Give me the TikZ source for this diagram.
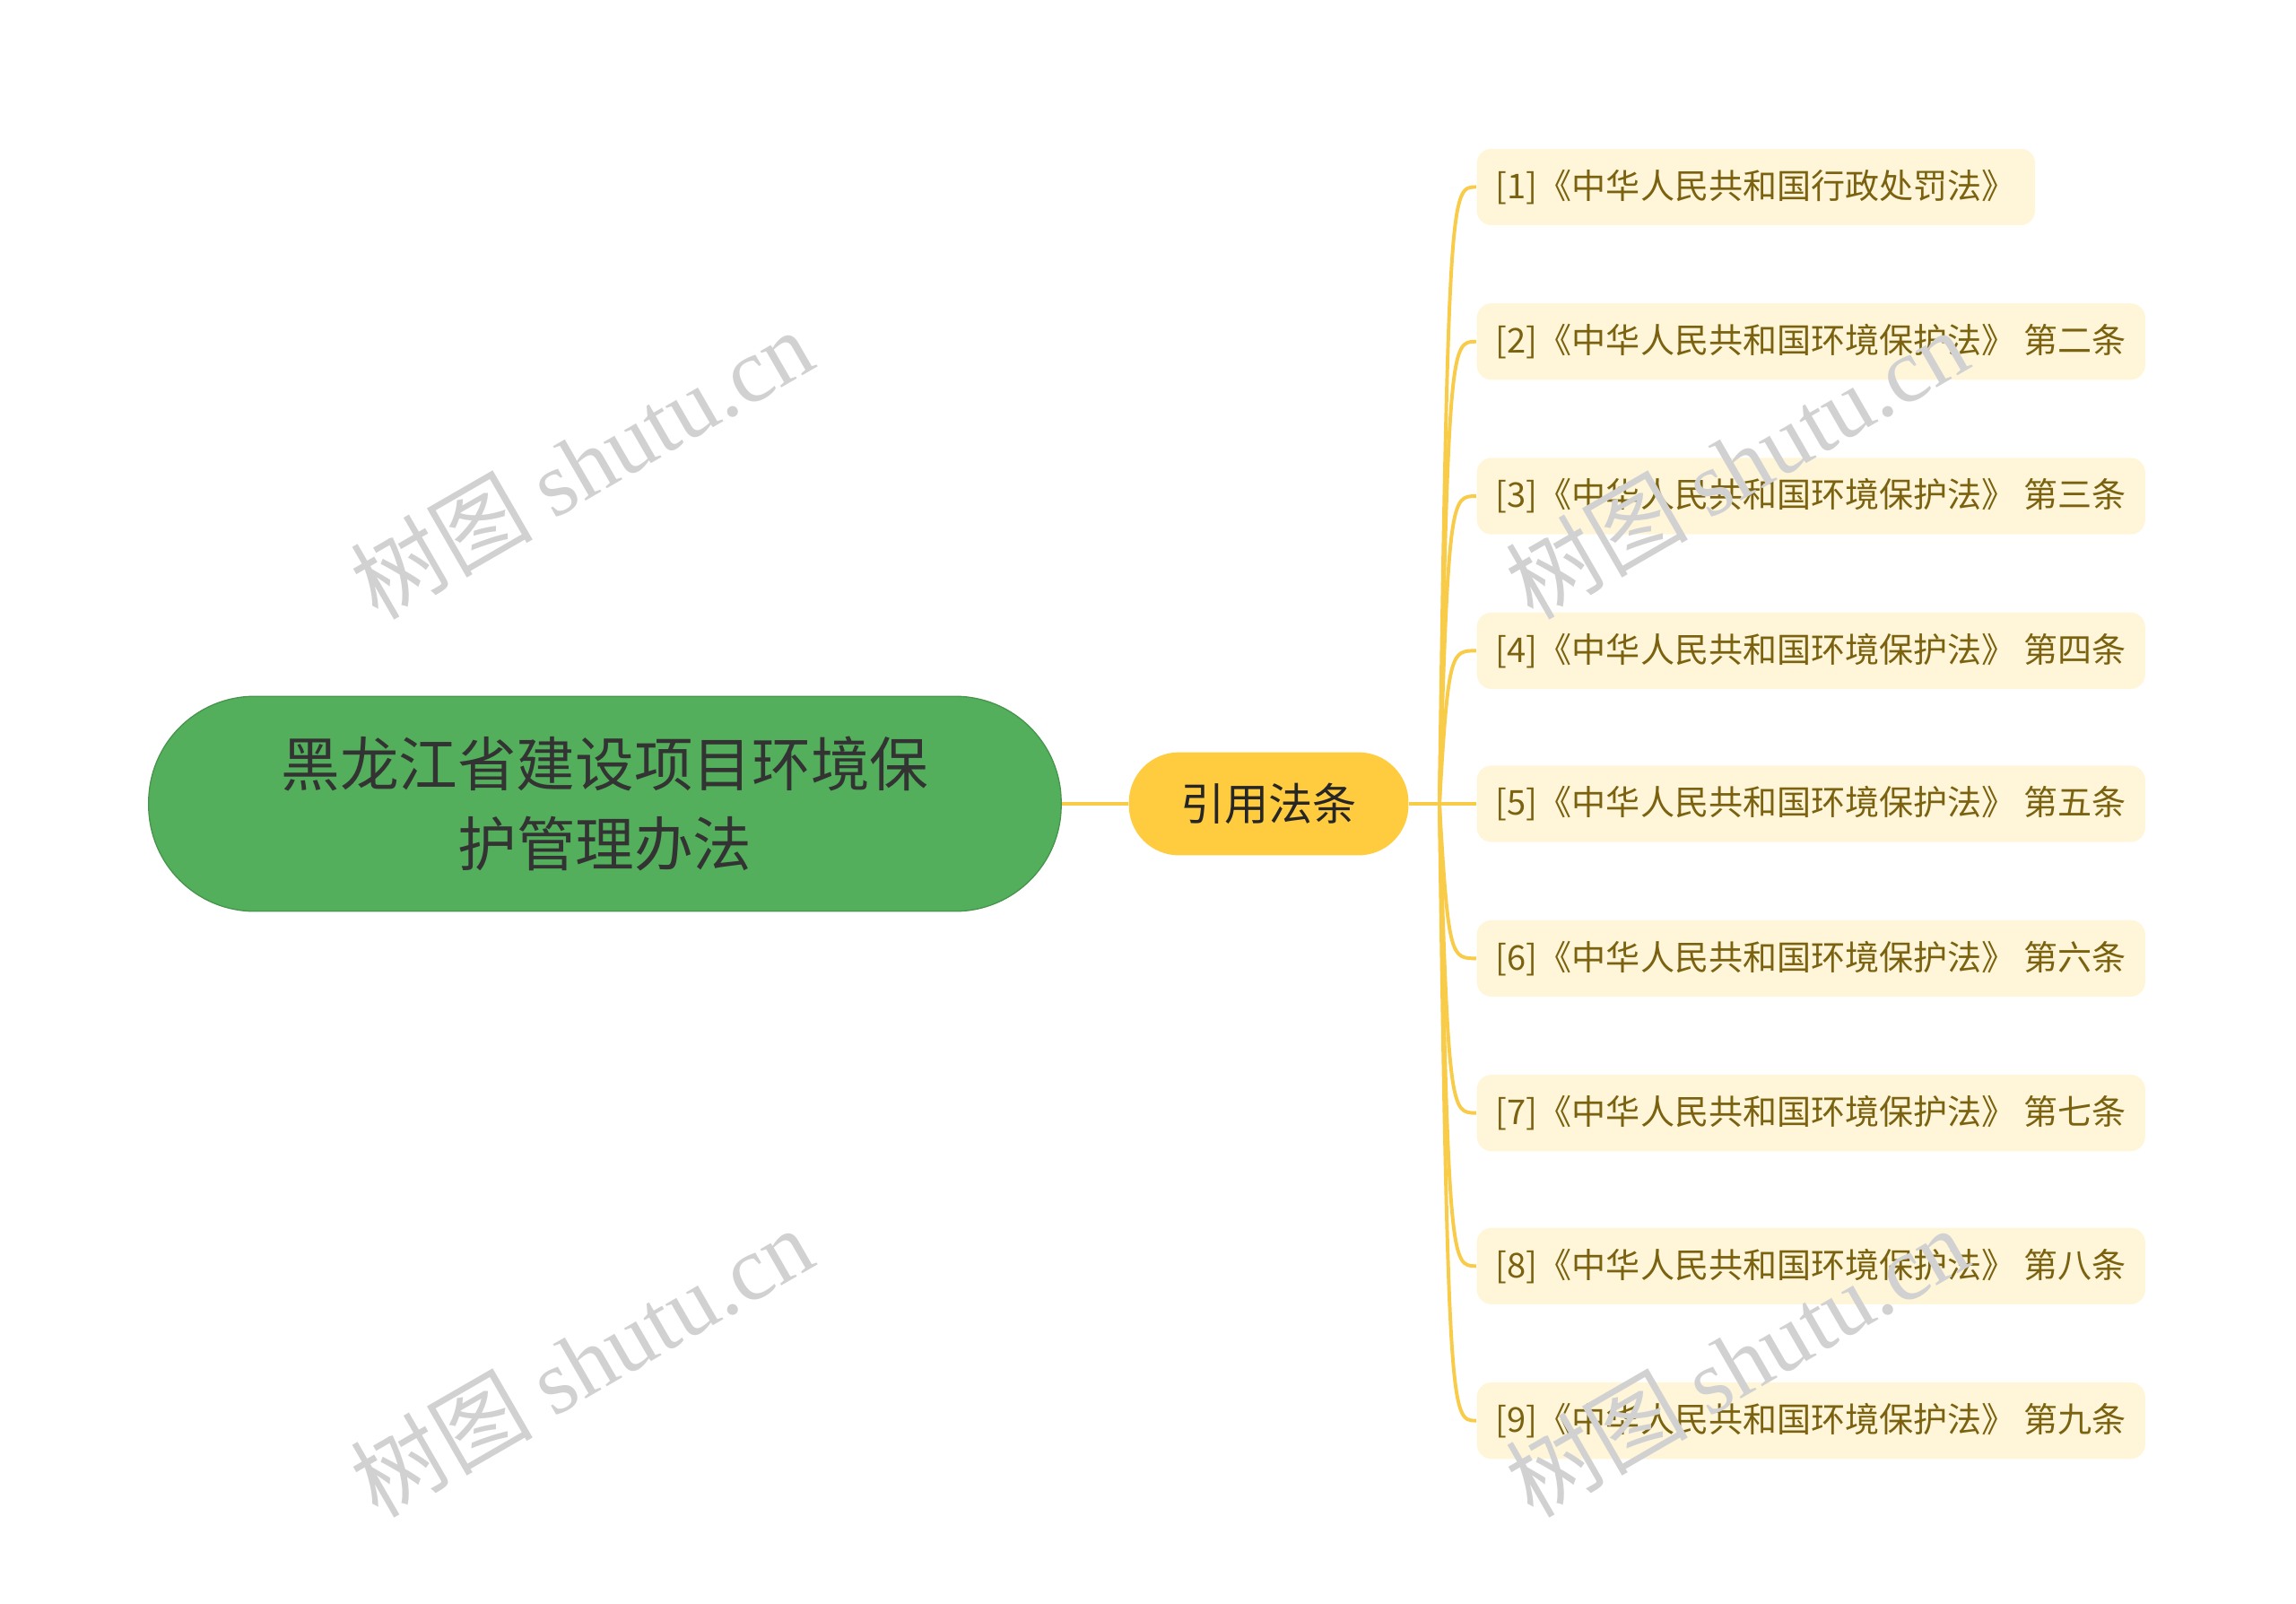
\documentclass[tikz,border=0pt]{standalone}
\usepackage{fontspec}
\setmainfont{Noto Sans CJK SC}
\newfontfamily\wmfont{Liberation Serif}
\newfontfamily\wmcjk{Noto Sans CJK SC}
\begin{document}
\begin{tikzpicture}[x=0.5pt,y=-0.5pt,
  leaf/.style={fill=leafbg,text=leaftx,rounded corners=5pt,minimum height=26pt,inner xsep=6.5pt,anchor=west,font=\fontsize{11.6}{13}\selectfont},
  conn/.style={draw=linec,line width=1.2pt},
  wm/.style={text=black!18,font=\fontsize{31}{36}\selectfont,rotate=30}]
\definecolor{leafbg}{HTML}{FFF6D9}
\definecolor{leaftx}{HTML}{7A6210}
\definecolor{linec}{HTML}{F8CB48}
\definecolor{rootc}{HTML}{53AF5B}
\definecolor{midc}{HTML}{FFCB3F}
\useasboundingbox (0,0) rectangle (1560,1089);
\node[fill=rootc,draw=rootc!85!black,line width=0.4pt,rounded corners=36pt,minimum width=310pt,minimum height=73pt,align=center,text=black!80,font=\fontsize{20}{27}\selectfont] (root) at (411,546) {黑龙江省建设项目环境保\\护管理办法};
\node[fill=midc,rounded corners=17pt,minimum width=95pt,minimum height=35pt,text=black!85,font=\fontsize{15}{18}\selectfont] (mid) at (862,546) {引用法条};
\draw[conn] (root.east) -- (mid.west);
\coordinate (j) at (978,546);
\draw[conn] (mid.east) -- (j);
\foreach \i/\y/\t in {1/127/{[1]《中华人民共和国行政处罚法》},2/232/{[2]《中华人民共和国环境保护法》 第二条},3/337/{[3]《中华人民共和国环境保护法》 第三条},4/442/{[4]《中华人民共和国环境保护法》 第四条},5/546/{[5]《中华人民共和国环境保护法》 第五条},6/651/{[6]《中华人民共和国环境保护法》 第六条},7/756/{[7]《中华人民共和国环境保护法》 第七条},8/860/{[8]《中华人民共和国环境保护法》 第八条},9/965/{[9]《中华人民共和国环境保护法》 第九条}}{
  \node[leaf] (l\i) at (1003,\y) {\t};
  \draw[conn] (j) .. controls (984,\y) and (986,\y) .. (l\i.west);
}
\node[wm] (w1) at (395,315) {\wmcjk 树图 \wmfont shutu.cn};
\node[wm] (w2) at (395,925) {\wmcjk 树图 \wmfont shutu.cn};
\node[wm] (w3) at (1180,315) {\wmcjk 树图 \wmfont shutu.cn};
\node[wm] (w4) at (1180,925) {\wmcjk 树图 \wmfont shutu.cn};
\end{tikzpicture}
\end{document}
